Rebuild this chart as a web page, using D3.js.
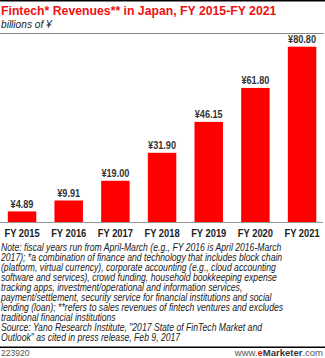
<!DOCTYPE html>
<html>
<head>
<meta charset="utf-8">
<script src="https://cdn.jsdelivr.net/npm/d3@7"></script>
<style>
  html, body { margin: 0; padding: 0; background: #fff; }
  svg { display: block; font-family: "Liberation Sans", Arial, sans-serif; }
</style>
</head>
<body>
<svg id="chart" width="325" height="358"></svg>
<script>
// Fintech revenues in Japan, billions of yen
const categories = ["FY 2015", "FY 2016", "FY 2017", "FY 2018", "FY 2019", "FY 2020", "FY 2021"];
const revenues = [4.89, 9.91, 19.00, 31.90, 46.15, 61.80, 80.80];
const valueLabels = ["¥4.89", "¥9.91", "¥19.00", "¥31.90", "¥46.15", "¥61.80", "¥80.80"];

const titleText = "Fintech* Revenues** in Japan, FY 2015-FY 2021";
const subtitleText = "billions of ¥";
const noteLines = [
  "Note: fiscal years run from April-March (e.g., FY 2016 is April 2016-March",
  "2017); *a combination of finance and technology that includes block chain",
  "(platform, virtual currency), corporate accounting (e.g., cloud accounting",
  "software and services), crowd funding, household bookkeeping expense",
  "tracking apps, investment/operational and information services,",
  "payment/settlement, security service for financial institutions and social",
  "lending (loan); **refers to sales revenues of fintech ventures and excludes",
  "traditional financial institutions",
  "Source: Yano Research Institute, \"2017 State of FinTech Market and",
  "Outlook\" as cited in press release, Feb 9, 2017"
];
const chartId = "223920";

const W = 325, H = 358;
const svg = d3.select("#chart");

// squeeze text horizontally by a factor, keeping its height
function squeeze(sel, k) {
  sel.each(function () {
    const len = this.getComputedTextLength();
    d3.select(this).attr("textLength", len * k).attr("lengthAdjust", "spacingAndGlyphs");
  });
}

// header rules and titles
svg.append("rect").attr("x", 0).attr("y", 0).attr("width", W).attr("height", 1.5).attr("fill", "#000");
svg.append("text").attr("x", 1).attr("y", 15)
  .attr("font-size", 13.4).attr("font-weight", "bold").attr("fill", "#ee1111")
  .text(titleText).call(squeeze, 0.915);
svg.append("text").attr("x", 1).attr("y", 28)
  .attr("font-size", 11).attr("font-style", "italic").attr("fill", "#222")
  .text(subtitleText).call(squeeze, 0.92);
svg.append("rect").attr("x", 0).attr("y", 33).attr("width", 324).attr("height", 1).attr("fill", "#888");

// plot scales
const baseline = 222;
const x = d3.scaleBand().domain(categories).range([-1.3, 325.4])
  .paddingInner(0.39).paddingOuter(0.195);
const y = d3.scaleLinear().domain([0, 80.8]).range([baseline, 46.7]);

const g = svg.append("g");
g.selectAll("rect.bar").data(revenues).join("rect")
  .attr("class", "bar")
  .attr("x", (d, i) => x(categories[i]))
  .attr("width", x.bandwidth())
  .attr("y", d => y(d))
  .attr("height", d => y(0) - y(d))
  .attr("fill", "#ff0000");

g.selectAll("text.val").data(revenues).join("text")
  .attr("class", "val")
  .attr("x", (d, i) => x(categories[i]) + x.bandwidth() / 2)
  .attr("y", d => y(d) - 3.5)
  .attr("text-anchor", "middle")
  .attr("font-size", 10.5).attr("font-weight", "bold").attr("fill", "#333")
  .text((d, i) => valueLabels[i])
  .call(squeeze, 0.87);

// x axis
const xAxis = d3.axisBottom(x).tickSize(0).tickPadding(8);
const ax = svg.append("g").attr("transform", `translate(0,${baseline})`).call(xAxis);
ax.select(".domain").remove();
ax.selectAll("text").attr("font-size", 10.5).attr("font-weight", "bold").attr("fill", "#222")
  .attr("font-family", "'Liberation Sans', Arial, sans-serif")
  .call(squeeze, 0.89);
svg.append("rect").attr("x", 0).attr("y", baseline).attr("width", 323).attr("height", 1).attr("fill", "#999");

// footnotes, drawn in a horizontally condensed group
const notes = svg.append("g").attr("transform", "translate(1,0) scale(0.865,1)");
notes.selectAll("text").data(noteLines).join("text")
  .attr("x", 0).attr("y", (d, i) => 251 + i * 10)
  .attr("font-size", 10).attr("font-style", "italic").attr("fill", "#222")
  .text(d => d);

svg.append("rect").attr("x", 0).attr("y", 346.5).attr("width", W).attr("height", 1.5).attr("fill", "#000");
svg.append("text").attr("x", 1).attr("y", 356)
  .attr("font-size", 8.5).attr("fill", "#555").text(chartId);
const brand = svg.append("text").attr("x", 323).attr("y", 356).attr("text-anchor", "end")
  .attr("font-size", 9.5).attr("fill", "#555");
brand.append("tspan").text("www.");
brand.append("tspan").attr("fill", "#ee1111").attr("font-weight", "bold").text("e");
brand.append("tspan").attr("fill", "#333").attr("font-weight", "bold").text("Marketer");
brand.append("tspan").text(".com");
</script>
</body>
</html>
